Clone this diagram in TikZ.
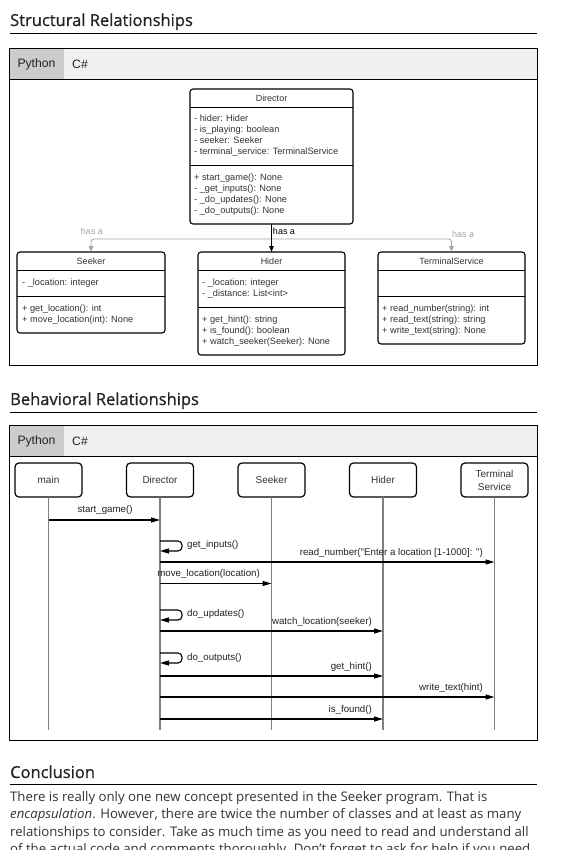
\documentclass[tikz,border=0pt]{standalone}
\usepackage{fontspec}
\setmainfont{Open Sans}
\newfontfamily\arialf{Liberation Sans}
\newfontfamily\headf{Open Sans}[FakeBold=0.7]
\usetikzlibrary{arrows.meta}
\definecolor{tabbar}{HTML}{F0F0F0}
\definecolor{tabsel}{HTML}{CCCCCC}
\definecolor{inktext}{HTML}{222222}
\definecolor{bodytext}{HTML}{333333}
\definecolor{diagtext}{HTML}{333333}
\definecolor{hasgray}{HTML}{A6A6A6}
\definecolor{lifegray}{HTML}{808080}
\begin{document}
\begin{tikzpicture}[x=1pt,y=-1pt,
  heading/.style={anchor=base west,inner sep=0pt,text=inktext,font=\headf\fontsize{16.5}{20}\selectfont},
  hrule/.style={line width=0.9pt,black},
  panelbox/.style={draw=black,line width=0.9pt},
  tabtext/.style={inner sep=0pt,text=inktext,font=\arialf\fontsize{12.2}{14}\selectfont},
  classbox/.style={draw=black,line width=1.1pt,rounded corners=3pt,inner sep=0pt,outer sep=0pt,anchor=north west},
  sepline/.style={line width=0.9pt,black},
  ctitle/.style={inner sep=0pt,text=diagtext,font=\arialf\fontsize{9}{11}\selectfont},
  cbody/.style={anchor=base west,inner sep=0pt,align=left,text=diagtext,font=\arialf\fontsize{9.2}{11}\selectfont},
  hasa/.style={inner sep=0pt,text=hasgray,font=\arialf\fontsize{9}{11}\selectfont},
  hasablack/.style={inner sep=0pt,text=black,font=\arialf\fontsize{9}{11}\selectfont},
  grayconn/.style={draw=hasgray,line width=0.9pt,rounded corners=3pt,-{Triangle[length=6pt,width=4.5pt]}},
  blackconn/.style={draw=black,line width=0.9pt,-{Triangle[length=6pt,width=4.5pt]}},
  head/.style={draw=black,line width=1.2pt,rounded corners=4pt,minimum width=67pt,minimum height=34pt,inner sep=0pt,outer sep=0pt,align=center,text=diagtext,font=\arialf\fontsize{10}{13}\selectfont},
  lifeline/.style={draw=lifegray,line width=1.3pt},
  msg/.style={draw=black,line width=1.1pt,-{Triangle[length=9pt,width=5pt]}},
  selfmsg/.style={draw=black,line width=1.1pt,rounded corners=4pt,-{Triangle[length=9pt,width=5pt]}},
  mlabel/.style={inner sep=0pt,text=inktext,font=\arialf\fontsize{9.7}{11}\selectfont},
  bodyline/.style={anchor=base west,inner sep=0pt,text=bodytext,font=\fontsize{13.2}{17}\selectfont}
]
\useasboundingbox[fill=white] (0,0) rectangle (567,850);

% ---------------- Structural ----------------
\node[heading] (h1) at (10,26) {Structural Relationships};
\draw[hrule] (10,33) -- (537,33);
\fill[tabbar] (9.5,48) rectangle (537,79);
\fill[tabsel] (9.5,48) rectangle (64,79);
\draw[panelbox] (9.5,48) rectangle (537,365);
\draw[sepline] (9.5,79) -- (537,79);
\node[tabtext] (t1py) at (36.5,64) {Python};
\node[tabtext] (t1cs) at (80,64) {C\#};

% Director (multi-line nodes: base = last line baseline)
\node[classbox,minimum width=163pt,minimum height=135pt] (dir) at (190,89) {};
\draw[sepline] (dir.west |- 0,107) -- (dir.east |- 0,107);
\draw[sepline] (dir.west |- 0,165) -- (dir.east |- 0,165);
\node[ctitle] (dirt) at (271.5,98) {Director};
\node[cbody] (dira) at (194,154.5) {- hider: Hider\\- is\_playing: boolean\\- seeker: Seeker\\- terminal\_service: TerminalService};
\node[cbody] (dirm) at (194,214) {+ start\_game(): None\\- \_get\_inputs(): None\\- \_do\_updates(): None\\- \_do\_outputs(): None};

% Seeker
\node[classbox,minimum width=148pt,minimum height=81pt] (seeker) at (17,252) {};
\draw[sepline] (seeker.west |- 0,270) -- (seeker.east |- 0,270);
\draw[sepline] (seeker.west |- 0,296) -- (seeker.east |- 0,296);
\node[ctitle] (seekt) at (91,261) {Seeker};
\node[cbody] (seeka) at (22,285) {- \_location: integer};
\node[cbody] (seekm) at (22,322) {+ get\_location(): int\\+ move\_location(int): None};

% Hider
\node[classbox,minimum width=147pt,minimum height=103pt] (hider) at (198,252) {};
\draw[sepline] (hider.west |- 0,270) -- (hider.east |- 0,270);
\draw[sepline] (hider.west |- 0,307) -- (hider.east |- 0,307);
\node[ctitle] (hidt) at (271.5,261) {Hider};
\node[cbody] (hida) at (202,296) {- \_location: integer\\- \_distance: List<int>};
\node[cbody] (hidm) at (202,344) {+ get\_hint(): string\\+ is\_found(): boolean\\+ watch\_seeker(Seeker): None};

% TerminalService
\node[classbox,minimum width=147pt,minimum height=92pt] (ts) at (378,252) {};
\draw[sepline] (ts.west |- 0,270) -- (ts.east |- 0,270);
\draw[sepline] (ts.west |- 0,296) -- (ts.east |- 0,296);
\node[ctitle] (tst) at (451.5,261) {TerminalService};
\node[cbody] (tsm) at (382,333) {+ read\_number(string): int\\+ read\_text(string): string\\+ write\_text(string): None};

% connectors
\coordinate (junc) at (271.5,239);
\draw[grayconn] (junc) -| (seeker.north);
\draw[grayconn] (junc) -| (ts.north);
\draw[blackconn] (dir.south) -- (hider.north);
\node[hasa] (ha1) at (92,231) {has a};
\node[hasablack] (ha2) at (284,231) {has a};
\node[hasa] (ha3) at (463,234) {has a};

% ---------------- Behavioral ----------------
\node[heading] (h2) at (10,405) {Behavioral Relationships};
\draw[hrule] (10,412) -- (537,412);
\fill[tabbar] (9.5,425) rectangle (537,456);
\fill[tabsel] (9.5,425) rectangle (64,456);
\draw[panelbox] (9.5,425) rectangle (537,740);
\draw[sepline] (9.5,456) -- (537,456);
\node[tabtext] (t2py) at (36.5,441) {Python};
\node[tabtext] (t2cs) at (80,441) {C\#};

\node[head] (mainh) at (48.5,480) {main};
\node[head] (dirh) at (160,480) {Director};
\node[head] (seekh) at (271.5,480) {Seeker};
\node[head] (hidh) at (383,480) {Hider};
\node[head] (termh) at (494.5,480) {Terminal\\Service};

\foreach \n in {mainh,dirh,seekh,hidh,termh}{
  \coordinate (\n-end) at (\n.south |- 0,730);
  \draw[lifeline] (\n.south) -- (\n-end);
}

% messages
\draw[msg] (mainh.south |- 0,520) -- (dirh.south |- 0,520);
\node[mlabel] (l1) at (105,510) {start\_game()};

\draw[selfmsg] (dirh.south |- 0,541) -- (182,541) -- (182,551) -- (dirh.south |- 0,551);
\node[mlabel,anchor=west] (l2) at (187,545) {get\_inputs()};

\draw[msg] (dirh.south |- 0,562) -- (termh.south |- 0,562);
\node[mlabel,anchor=east] (l3) at (483,553) {read\_number("Enter a location [1-1000]: ")};

\draw[msg] (dirh.south |- 0,583.5) -- (seekh.south |- 0,583.5);
\node[mlabel,anchor=east] (l4) at (260,574) {move\_location(location)};

\draw[selfmsg] (dirh.south |- 0,610) -- (182,610) -- (182,620) -- (dirh.south |- 0,620);
\node[mlabel,anchor=west] (l5) at (187,614) {do\_updates()};

\draw[msg] (dirh.south |- 0,631) -- (hidh.south |- 0,631);
\node[mlabel,anchor=east] (l6) at (372,622) {watch\_location(seeker)};

\draw[selfmsg] (dirh.south |- 0,653) -- (182,653) -- (182,663) -- (dirh.south |- 0,663);
\node[mlabel,anchor=west] (l7) at (187,658) {do\_outputs()};

\draw[msg] (dirh.south |- 0,676) -- (hidh.south |- 0,676);
\node[mlabel,anchor=east] (l8) at (372,667) {get\_hint()};

\draw[msg] (dirh.south |- 0,697) -- (termh.south |- 0,697);
\node[mlabel,anchor=east] (l9) at (483,688) {write\_text(hint)};

\draw[msg] (dirh.south |- 0,719) -- (hidh.south |- 0,719);
\node[mlabel,anchor=east] (l10) at (372,710) {is\_found()};

% ---------------- Conclusion ----------------
\node[heading] (h3) at (10,778) {Conclusion};
\draw[hrule] (10,784) -- (537,784);
\node[bodyline] (b1) at (10,801) {There is really only one new concept presented in the Seeker program. That is};
\node[bodyline] (b2) at (10,818.5) {\textit{encapsulation}. However, there are twice the number of classes and at least as many};
\node[bodyline] (b3) at (10,836) {relationships to consider. Take as much time as you need to read and understand all};
\node[bodyline] (b4) at (10,853.5) {of the actual code and comments thoroughly. Don't forget to ask for help if you need};
\end{tikzpicture}
\end{document}
